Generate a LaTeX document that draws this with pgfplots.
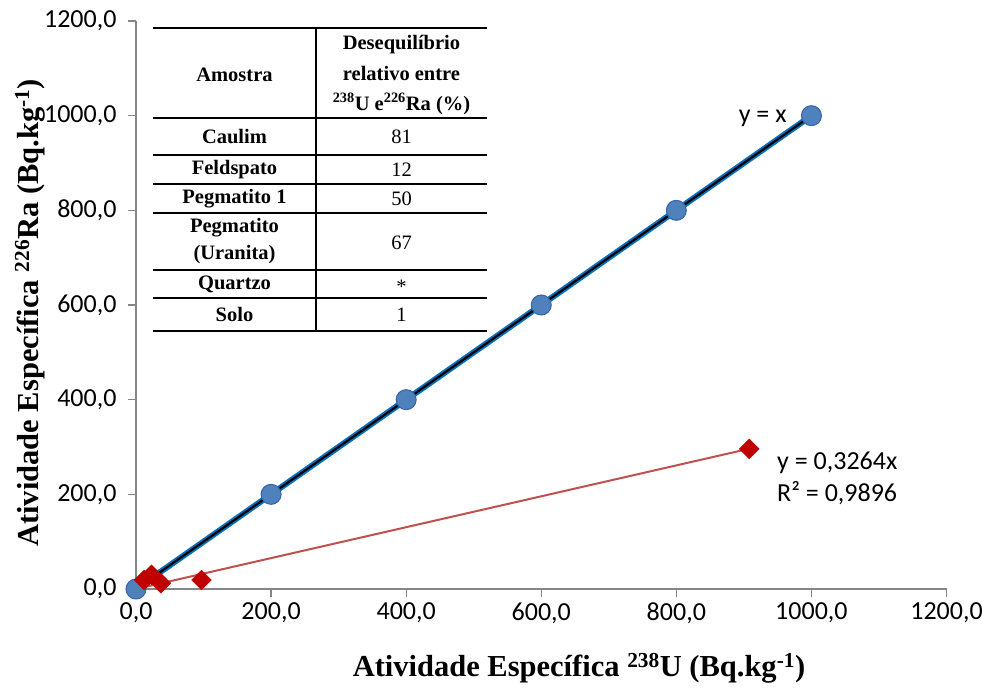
\documentclass[border=0pt]{standalone}
\usepackage{fontspec}
\usepackage{pgfplots}
\pgfplotsset{compat=1.18}
\setmainfont{Liberation Serif}
\newfontfamily\calibri{Carlito}
\definecolor{axisgray}{RGB}{134,134,134}
\definecolor{ptblue}{RGB}{79,129,189}
\definecolor{ptblueedge}{RGB}{54,100,165}
\definecolor{lineblue}{RGB}{0,112,192}
\definecolor{ptred}{RGB}{192,0,0}
\definecolor{linered}{RGB}{192,80,77}

% reference line y = x
\pgfplotstableread{
x y
0 0
200 200
400 400
600 600
800 800
1000 1000
}\refdata

% samples: 238U vs 226Ra
\pgfplotstableread{
x y
12 19
23 30
37 12
97 19
908 296
}\sampledata

% fitted line y = 0.3264x
\pgfplotstableread{
x y
0 0
908 296.4
}\fitdata

\newcommand{\tabfont}{\bfseries\fontsize{20.5}{24}\selectfont}
\newcommand{\tabnum}{\fontsize{20.5}{24}\selectfont}
\newcommand{\lblfont}{\bfseries\fontsize{30.5}{34}\selectfont}

\begin{document}
\begin{tikzpicture}
\path[use as bounding box] (-136pt,-99pt) rectangle (846pt,589pt);
\begin{axis}[
  scale only axis,
  width=810.5pt, height=568pt,
  xmin=0, xmax=1200, ymin=0, ymax=1200,
  xtick={0,200,...,1200}, ytick={0,200,...,1200},
  axis x line*=bottom, axis y line*=left,
  axis line style={axisgray, line width=1.3pt, -},
  tick style={axisgray, line width=1.3pt},
  tick align=outside, major tick length=8pt,
  clip=false,
  /pgf/number format/.cd, fixed, fixed zerofill, precision=1, use comma, 1000 sep={}, assume math mode=true,
  /pgfplots/.cd,
  tick label style={font=\calibri\fontsize{26}{30}\selectfont, text=black},
  yticklabel style={xshift=-8pt},
  xticklabel style={yshift=-2pt},
]
\addplot[only marks, mark=*, mark size=10pt, mark options={fill=ptblue, draw=ptblueedge, line width=1pt}] table {\refdata};
\addplot[only marks, mark=square*, mark size=7pt, mark options={fill=ptred, draw=ptred, rotate=45}] table {\sampledata};
\addplot[linered, line width=2pt] table {\fitdata};
\addplot[lineblue, line width=6pt] table {\refdata};
\addplot[black, line width=2.2pt] table {\refdata};
\end{axis}

% fit annotations
\node[anchor=center, font=\calibri\fontsize{26}{30}\selectfont] at (626.7pt,471pt) {y = x};
\node[anchor=west, font=\calibri\fontsize{26}{30}\selectfont, inner sep=0pt] at (641pt,126pt) {y = 0,3264x};
\node[anchor=west, font=\calibri\fontsize{26}{30}\selectfont, inner sep=0pt] at (641pt,96pt) {R² = 0,9896};

% axis titles
\node[font=\lblfont] at (443pt,-79pt) {Atividade Específica \textsuperscript{238}U (Bq.kg\textsuperscript{-1})};
\node[font=\lblfont, rotate=90] at (-106pt,276pt) {Atividade Específica \textsuperscript{226}Ra (Bq.kg\textsuperscript{-1})};

% inset table
\begin{scope}[line width=2pt, black]
\foreach \yy in {560.7,471.3,434,405,376.3,319,291,258.3}
  \draw (17pt,\yy pt) -- (351pt,\yy pt);
\draw (180pt,560.7pt) -- (180pt,258.3pt);
\end{scope}
\node[font=\tabfont] at (98.5pt,514pt) {Amostra};
\node[font=\tabfont] at (265.5pt,544pt) {Desequilíbrio};
\node[font=\tabfont] at (265.5pt,516pt) {relativo entre};
\node[font=\tabfont] at (265.5pt,485pt) {\textsuperscript{238}U e\textsuperscript{226}Ra (\%)};
\node[font=\tabfont] at (98.5pt,452.6pt) {Caulim};
\node[font=\tabnum] at (265.5pt,452.6pt) {81};
\node[font=\tabfont] at (98.5pt,419.5pt) {Feldspato};
\node[font=\tabnum] at (265.5pt,419.5pt) {12};
\node[font=\tabfont] at (98.5pt,390.6pt) {Pegmatito 1};
\node[font=\tabnum] at (265.5pt,390.6pt) {50};
\node[font=\tabfont] at (98.5pt,361pt) {Pegmatito};
\node[font=\tabfont] at (98.5pt,334pt) {(Uranita)};
\node[font=\tabnum] at (265.5pt,346pt) {67};
\node[font=\tabfont] at (98.5pt,305pt) {Quartzo};
\node[font=\tabnum] at (265.5pt,302pt) {*};
\node[font=\tabfont] at (98.5pt,274.6pt) {Solo};
\node[font=\tabnum] at (265.5pt,274.6pt) {1};
\end{tikzpicture}
\end{document}
